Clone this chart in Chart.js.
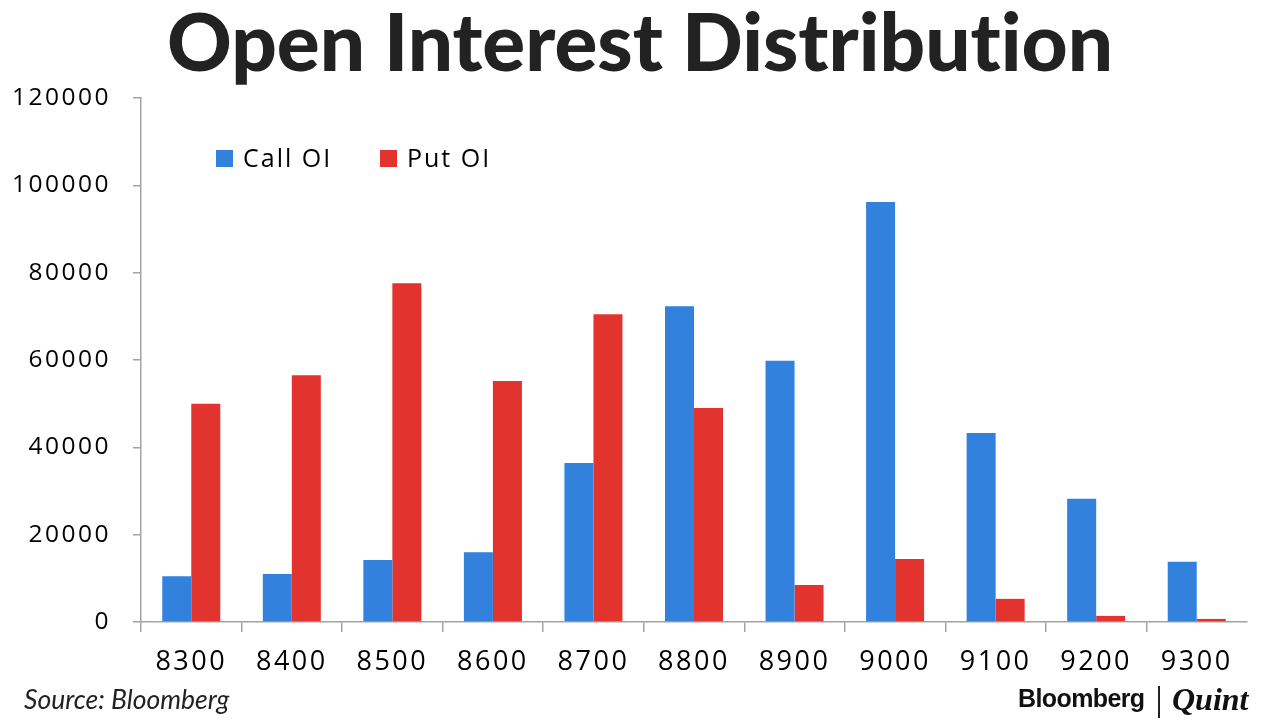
<!DOCTYPE html>
<html>
<head>
<meta charset="utf-8">
<script src="https://cdn.jsdelivr.net/npm/chart.js@4.4.1/dist/chart.umd.min.js"></script>
<style>
  html, body { margin: 0; padding: 0; background: #fff; }
  #wrap { position: relative; width: 1280px; height: 720px; overflow: hidden; }
  #chart { position: absolute; left: 0; top: 0; }
  #title {
    position: absolute; left: 0; top: -8px; width: 1280px; text-align: center;
    font-family: Lato, sans-serif; font-weight: 900; font-size: 80px; color: #222;
    font-variant-ligatures: none; font-feature-settings: "liga" 0;
  }
  #source {
    position: absolute; left: 24px; top: 683px;
    font-family: Lato, sans-serif; font-style: italic; font-size: 26.5px; color: #222;
  }
  #brand { position: absolute; left: 1018px; top: 682px; height: 36px; }
  #brand .bb { position: absolute; left: 0; top: 2px; font-family: "Liberation Sans", Arial, sans-serif;
    font-weight: bold; font-size: 25px; color: #111; letter-spacing: -0.6px; }
  #brand .sep { position: absolute; left: 140px; top: 4px; width: 1.5px; height: 32px; background: #222; }
  #brand .q { position: absolute; left: 154px; top: -1px; font-family: "Liberation Serif", serif;
    font-weight: bold; font-style: italic; font-size: 32px; color: #111; }
</style>
</head>
<body>
<div id="wrap">
  <canvas id="chart" width="1280" height="720"></canvas>
  <div id="title">Open Interest Distribution</div>
  <div id="source">Source: Bloomberg</div>
  <div id="brand"><span class="bb">Bloomberg</span><span class="sep"></span><span class="q">Quint</span></div>
</div>
<script>
// strike prices
const strikes = ["8300", "8400", "8500", "8600", "8700", "8800", "8900", "9000", "9100", "9200", "9300"];
// open interest
const callOI = [10500, 11000, 14200, 16000, 36400, 72300, 59800, 96200, 43300, 28200, 13800];
const putOI = [50000, 56500, 77600, 55200, 70500, 49000, 8500, 14400, 5300, 1400, 700];
const yTicks = [0, 20000, 40000, 60000, 80000, 100000, 120000];

const axisGray = "#a3a3a3";
const labelFont = "'Open Sans', 'Noto Sans', sans-serif";

// legend drawn inside the plot, top-left
const insideLegend = {
  id: "insideLegend",
  afterDraw(chart) {
    const ctx = chart.ctx;
    const xs = [216, 380];
    ctx.save();
    ctx.letterSpacing = "2px";
    ctx.font = "25px " + labelFont;
    ctx.textBaseline = "middle";
    chart.data.datasets.forEach((ds, i) => {
      ctx.fillStyle = ds.backgroundColor;
      ctx.fillRect(xs[i], 150, 17, 17);
      ctx.fillStyle = "#000";
      ctx.fillText(ds.label, xs[i] + 27, 160);
    });
    ctx.restore();
  },
};

// wider glyph spacing like the stretched original
const spacing = {
  id: "spacing",
  beforeDraw(chart) {
    chart.ctx.letterSpacing = "2.5px";
  },
};

const ctx = document.getElementById("chart").getContext("2d");
new Chart(ctx, {
  type: "bar",
  data: {
    labels: strikes,
    datasets: [
      { label: "Call OI", data: callOI, backgroundColor: "#3281dd" },
      { label: "Put OI", data: putOI, backgroundColor: "#e2332f" },
    ],
  },
  options: {
    responsive: false,
    animation: false,
    layout: { padding: { top: 98, right: 33, left: 0, bottom: 0 } },
    datasets: {
      bar: { categoryPercentage: 0.577, barPercentage: 1.0 },
    },
    plugins: {
      legend: { display: false },
      tooltip: { enabled: false },
    },
    scales: {
      x: {
        grid: {
          offset: true,
          drawOnChartArea: false,
          drawTicks: true,
          tickLength: 10,
          lineWidth: 1.5,
          // no tick at the far right end
          color: (c) => (c.type === "tick" ? axisGray : "rgba(0,0,0,0)"),
        },
        border: { display: true, color: axisGray, width: 1.5 },
        ticks: {
          color: "#000",
          font: { family: labelFont, size: 27 },
          padding: 14,
          maxRotation: 0,
        },
        afterFit(scale) {
          scale.height = 98;
        },
      },
      y: {
        min: 0,
        max: 120000,
        afterBuildTicks(scale) {
          scale.ticks = yTicks.map((v) => ({ value: v }));
        },
        grid: {
          drawOnChartArea: false,
          drawTicks: true,
          tickLength: 8,
          lineWidth: 1.5,
          color: axisGray,
        },
        border: { display: true, color: axisGray, width: 1.5 },
        ticks: {
          color: "#000",
          font: { family: labelFont, size: 24.5 },
          padding: 22,
          callback: (v) => String(v),
        },
        afterFit(scale) {
          scale.width = 141;
        },
      },
    },
  },
  plugins: [spacing, insideLegend],
});
</script>
</body>
</html>
